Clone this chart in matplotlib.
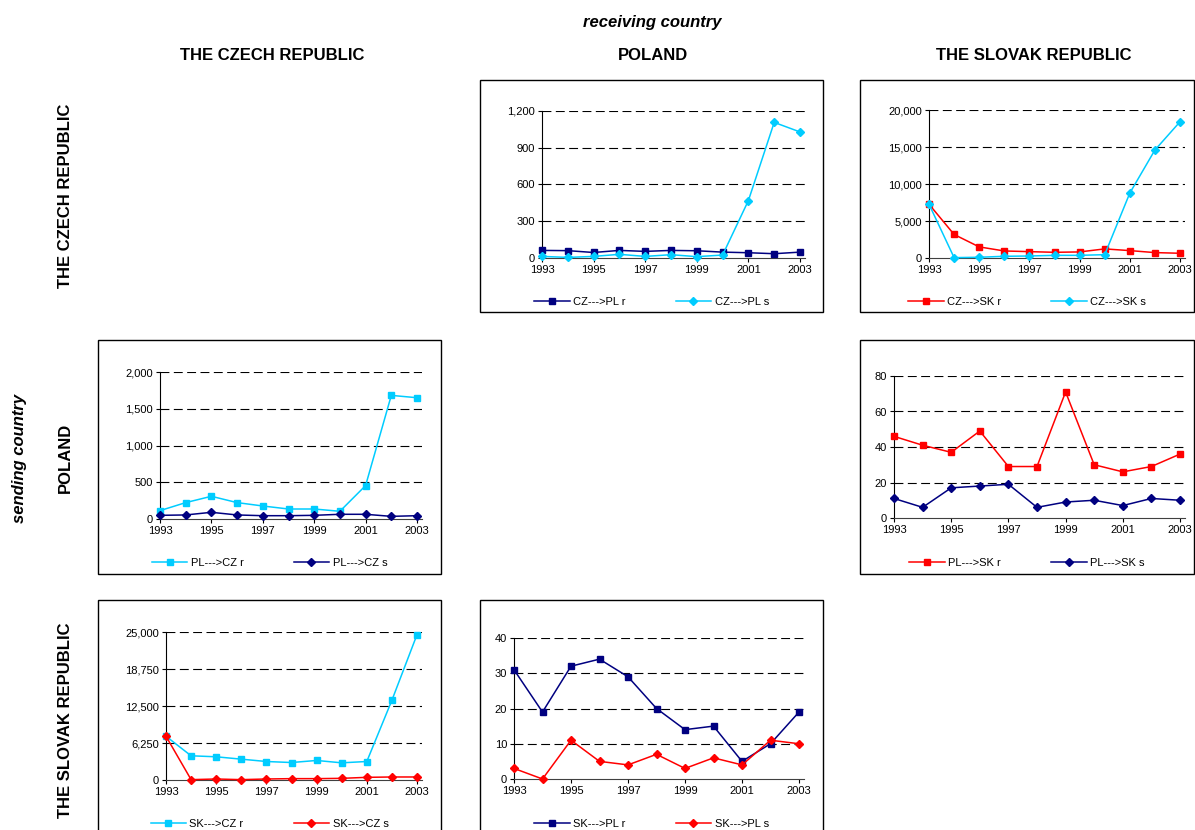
#Small multiples of migration flows between the Czech Republic, Poland and Slovakia, 1993-2003.

import numpy as np
from matplotlib import pyplot as plt
from matplotlib.patches import Rectangle
from matplotlib.ticker import FuncFormatter

plt.rcParams['font.family'] = ['Liberation Sans', 'DejaVu Sans']

#Years on the horizontal axis
years = list(range(1993, 2004))

#CZ ---> PL
cz_pl_r = [62, 60, 45, 62, 54, 62, 59, 48, 43, 35, 48]
cz_pl_s = [13, 5, 13, 30, 13, 27, 11, 24, 469, 1107, 1029]

#CZ ---> SK
cz_sk_r = [7270, 3180, 1500, 950, 860, 770, 820, 1230, 1000, 730, 640]
cz_sk_s = [7270, 50, 100, 230, 270, 360, 360, 450, 8770, 14590, 18410]

#PL ---> CZ
pl_cz_r = [114, 223, 309, 223, 177, 136, 136, 105, 455, 1682, 1650]
pl_cz_s = [50, 55, 91, 55, 45, 45, 50, 64, 64, 36, 45]

#PL ---> SK
pl_sk_r = [46, 41, 37, 49, 29, 29, 71, 30, 26, 29, 36]
pl_sk_s = [11, 6, 17, 18, 19, 6, 9, 10, 7, 11, 10]

#SK ---> CZ
sk_cz_r = [7390, 4090, 3920, 3520, 3125, 2950, 3300, 2900, 3125, 13470, 24550]
sk_cz_s = [7390, 60, 170, 60, 170, 230, 230, 280, 450, 510, 510]

#SK ---> PL
sk_pl_r = [31, 19, 32, 34, 29, 20, 14, 15, 5, 10, 19]
sk_pl_s = [3, 0, 11, 5, 4, 7, 3, 6, 4, 11, 10]

NAVY = '#000080'
CYAN = '#00CCFF'
RED = '#FF0000'

W, H = 1195, 830
fig = plt.figure(figsize=(W / 100, H / 100), dpi=100)


def px_axes(x0, y0, x1, y1):
    #axes from pixel box (left, top, right, bottom)
    return fig.add_axes([x0 / W, 1 - y1 / H, (x1 - x0) / W, (y1 - y0) / H])


def frame(x0, y0, x1, y1):
    fig.patches.append(Rectangle((x0 / W, 1 - y1 / H), (x1 - x0) / W, (y1 - y0) / H,
                                 transform=fig.transFigure, fill=False,
                                 edgecolor='black', linewidth=1.0))


def panel(box, area, s1, s2, yticks, leg_y):
    frame(*box)
    x0, y0, x2003, y1 = area
    step = (x2003 - x0) / 10.0
    ax = px_axes(x0, y0, x2003 + 5, y1)

    (vals1, lab1, col1, mk1, ms1), (vals2, lab2, col2, mk2, ms2) = s1, s2
    ax.plot(years, vals1, color=col1, marker=mk1, markersize=ms1, linewidth=1.1,
            label=lab1, clip_on=False, zorder=3)
    ax.plot(years, vals2, color=col2, marker=mk2, markersize=ms2, linewidth=1.1,
            label=lab2, clip_on=False, zorder=3)

    ax.set_xlim(1993, 2003 + 5 / step)
    ax.set_ylim(0, yticks[-1])
    ax.set_xticks(years[::2])
    ax.set_yticks(yticks)
    ax.yaxis.set_major_formatter(FuncFormatter(lambda v, p: '{:,.0f}'.format(v)))
    ax.tick_params(labelsize=8, length=3, width=0.8, pad=2, direction='out')

    for v in yticks[1:]:
        ax.axhline(v, color='black', linewidth=0.8, dashes=(8, 4), zorder=1)

    for side in ['top', 'right']:
        ax.spines[side].set_visible(False)
    ax.spines['left'].set_linewidth(0.8)
    ax.spines['bottom'].set_linewidth(0.8)
    ax.spines['bottom'].set_color('#404040')
    ax.patch.set_alpha(0)

    cx = (box[0] + box[2]) / 2.0
    ax.legend(loc='center', bbox_to_anchor=(cx / W, 1 - leg_y / H),
              bbox_transform=fig.transFigure, ncol=2, frameon=False, fontsize=8,
              handlelength=3.2, columnspacing=4.5, handletextpad=0.3)
    return ax


#Row 1: sending Czech Republic
panel((480, 80, 823, 312), (542, 111, 800, 258),
      (cz_pl_r, 'CZ--->PL r', NAVY, 's', 5), (cz_pl_s, 'CZ--->PL s', CYAN, 'D', 4),
      [0, 300, 600, 900, 1200], 302)
panel((860, 80, 1194, 312), (929, 110, 1180, 258),
      (cz_sk_r, 'CZ--->SK r', RED, 's', 5), (cz_sk_s, 'CZ--->SK s', CYAN, 'D', 4),
      [0, 5000, 10000, 15000, 20000], 302)

#Row 2: sending Poland
panel((98, 340, 441, 574), (160, 372, 417, 519),
      (pl_cz_r, 'PL--->CZ r', CYAN, 's', 5), (pl_cz_s, 'PL--->CZ s', NAVY, 'D', 4),
      [0, 500, 1000, 1500, 2000], 563)
panel((860, 340, 1194, 574), (894, 376, 1180, 518),
      (pl_sk_r, 'PL--->SK r', RED, 's', 5), (pl_sk_s, 'PL--->SK s', NAVY, 'D', 4),
      [0, 20, 40, 60, 80], 563)

#Row 3: sending Slovak Republic
panel((98, 600, 441, 840), (166, 632, 417, 780),
      (sk_cz_r, 'SK--->CZ r', CYAN, 's', 5), (sk_cz_s, 'SK--->CZ s', RED, 'D', 4),
      [0, 6250, 12500, 18750, 25000], 824)
panel((480, 600, 823, 840), (514, 638, 799, 779),
      (sk_pl_r, 'SK--->PL r', NAVY, 's', 5), (sk_pl_s, 'SK--->PL s', RED, 'D', 4),
      [0, 10, 20, 30, 40], 824)

#Headers
fig.text(652 / W, 1 - 22 / H, 'receiving country', ha='center', va='center',
         fontsize=12, fontweight='bold', style='italic')
for cx, name in [(272, 'THE CZECH REPUBLIC'), (653, 'POLAND'), (1034, 'THE SLOVAK REPUBLIC')]:
    fig.text(cx / W, 1 - 56 / H, name, ha='center', va='center',
             fontsize=12, fontweight='bold')

fig.text(20 / W, 1 - 458 / H, 'sending country', ha='center', va='center',
         fontsize=12, fontweight='bold', style='italic', rotation=90)
for cy, name in [(196, 'THE CZECH REPUBLIC'), (458, 'POLAND'), (720, 'THE SLOVAK REPUBLIC')]:
    fig.text(65 / W, 1 - cy / H, name, ha='center', va='center',
             fontsize=12, fontweight='bold', rotation=90)

fig.savefig('out.png', dpi=100)
